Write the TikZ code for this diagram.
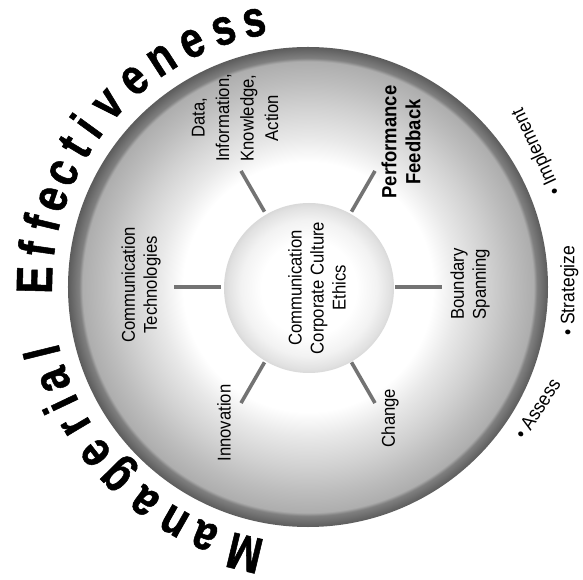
\documentclass[tikz,border=0pt]{standalone}
\usepackage{fontspec}
\setmainfont{Liberation Sans}
\newfontfamily\lblfont[FakeStretch=0.9]{Liberation Sans}
\newfontfamily\ttlfont[FakeStretch=0.8,BoldFeatures={FakeBold=1}]{Liberation Sans}
\definecolor{g38}{rgb}{0.36,0.36,0.36}
\definecolor{g50}{rgb}{0.50,0.50,0.50}
\definecolor{g68}{rgb}{0.68,0.68,0.68}
\definecolor{g74}{rgb}{0.74,0.74,0.74}
\definecolor{g82}{rgb}{0.82,0.82,0.82}
\definecolor{g85}{rgb}{0.85,0.85,0.85}
\definecolor{g88}{rgb}{0.88,0.88,0.88}
\definecolor{g91}{rgb}{0.91,0.91,0.91}
\definecolor{g95}{rgb}{0.95,0.95,0.95}
\definecolor{spokec}{rgb}{0.45,0.45,0.45}
\pgfdeclareradialshading{outerdisc}{\pgfpoint{0bp}{0bp}}{%
  color(0bp)=(white); color(13.0bp)=(white); color(15.6bp)=(g91);
  color(18.75bp)=(g82); color(21.35bp)=(g74); color(23.5bp)=(g68);
  color(23.85bp)=(g50); color(25bp)=(g38); color(50bp)=(g38)}
\pgfdeclareradialshading{innerdisc}{\pgfpoint{0bp}{0bp}}{%
  color(0bp)=(white); color(14bp)=(white); color(20bp)=(g95);
  color(24bp)=(g88); color(25bp)=(g85); color(50bp)=(g85)}
\begin{document}
\begin{tikzpicture}[x=1pt,y=1pt,
  lbl/.style={font=\lblfont\fontsize{18.5}{22}\selectfont, align=center, rotate=90, inner sep=0pt},
  lblwide/.style={lbl, font=\lblfont\fontsize{18.5}{24.5}\selectfont},
  lblbold/.style={lbl, font=\lblfont\bfseries\fontsize{20.5}{24}\selectfont},
  sidelbl/.style={font=\lblfont\fontsize{19.5}{21}\selectfont, inner sep=0pt, anchor=west},
  ttl/.style={font=\ttlfont\bfseries\fontsize{51}{51}\selectfont, inner sep=0pt, anchor=base},
  spoke/.style={draw=spokec, line width=3.6pt}]
\useasboundingbox (-308,-293) rectangle (275,287);
% discs
\shade[shading=outerdisc] (0,0) circle[radius=240];
\shade[shading=innerdisc] (1,-1) circle[radius=85];
% spokes
\foreach \a [count=\i] in {0,60,120,180,240,300} {
  \coordinate (sa\i) at (\a:87);
  \coordinate (sb\i) at (\a:134);
  \draw[spoke] (sa\i) -- (sb\i);
}
% labels
\node[lbl] (core) at (9,-1) {Communication\\Corporate Culture\\Ethics};
\node[lblwide] (data) at (-73,169) {Data,\\Information,\\Knowledge,\\Action};
\node[lblbold] (perf) at (93,145) {Performance\\Feedback};
\node[lbl] (tech) at (-167,2) {Communication\\Technologies};
\node[lbl] (bound) at (162,3) {Boundary\\Spanning};
\node[lbl] (innov) at (-84,-136) {Innovation};
\node[lbl] (chg) at (82,-131) {Change};
% side bullets
\node[sidelbl, rotate=115] (imp) at (20.5:266) {\textbullet\ Implement};
\node[sidelbl, rotate=90] (strat) at (-10.6:266) {\textbullet\ Strategize};
\node[sidelbl, rotate=57] (assess) at (-35.5:259) {\textbullet\ Assess};
% curved title
\foreach \ang/\ch [count=\i] in {256.6/M, 247.4/a, 240.3/n, 232.7/a, 224.7/g, 218/e, 210.7/r, 205.4/i, 200.1/a, 193.8/l,
  178.5/E, 172/f, 166.5/f, 161/e, 155/c, 149/t, 144/i, 137.5/v, 130/e, 122.8/n, 115.4/e, 108.2/s, 101.5/s} {
  \node[ttl, rotate=\ang-90] (T\i) at (\ang:256) {\ch};
}
\end{tikzpicture}
\end{document}
